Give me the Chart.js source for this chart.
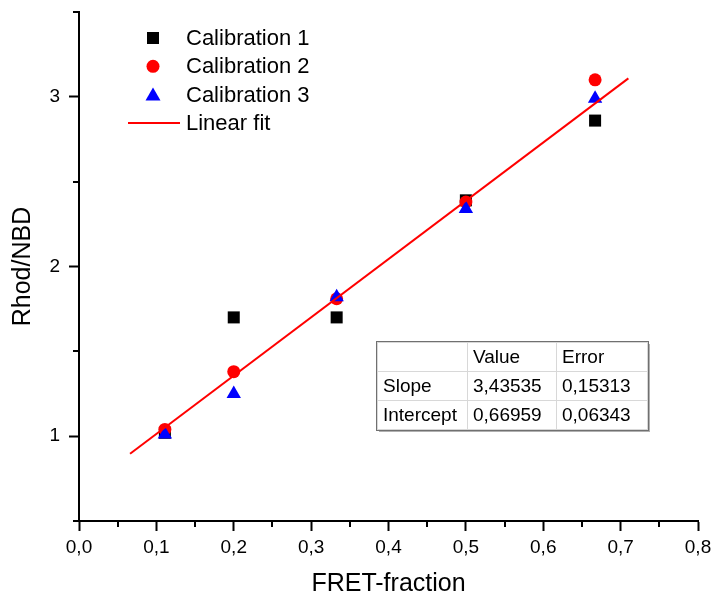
<!DOCTYPE html>
<html>
<head>
<meta charset="utf-8">
<script src="https://cdn.jsdelivr.net/npm/chart.js@4/dist/chart.umd.min.js"></script>
<style>
  html, body { margin: 0; padding: 0; background: #fff; }
  #wrap { position: relative; width: 713px; height: 597px; }
  canvas { display: block; }
  #fit {
    position: absolute; left: 377px; top: 342px;
    border-collapse: collapse; background: #fff;
    font-family: 'Liberation Sans', Arial, sans-serif; font-size: 19px; color: #000;
    box-shadow: 2px 2px 0 #b0b0b0; outline: 1px solid #707070;
  }
  #fit td { border: 1px solid #d8d8d8; padding: 0 5px; height: 28px; line-height: 28px; white-space: nowrap; }
  #fit td.c0 { width: 79px; }
  #fit td.c1 { width: 78px; }
  #fit td.c2 { width: 80px; }
</style>
</head>
<body>
<div id="wrap">
  <canvas id="c" width="713" height="597"></canvas>
  <table id="fit">
    <tr><td class="c0"></td><td class="c1">Value</td><td class="c2">Error</td></tr>
    <tr><td class="c0">Slope</td><td class="c1">3,43535</td><td class="c2">0,15313</td></tr>
    <tr><td class="c0">Intercept</td><td class="c1">0,66959</td><td class="c2">0,06343</td></tr>
  </table>
</div>
<script>
// ---- data ----
const fretFraction = [0.111, 0.2, 0.333, 0.5, 0.667];
const calibration1 = [1.02, 1.70, 1.70, 2.39, 2.86];
const calibration2 = [1.04, 1.38, 1.81, 2.38, 3.10];
const calibration3 = [1.01, 1.25, 1.82, 2.34, 2.99];
const fitX = [0.066, 0.71];
const fitY = [0.896, 3.109];
const xTickValues = [0, 0.1, 0.2, 0.3, 0.4, 0.5, 0.6, 0.7, 0.8];
const xMinorTicks = [0.05, 0.15, 0.25, 0.35, 0.45, 0.55, 0.65, 0.75];
const yTickValues = [1, 2, 3];
const yMinorTicks = [0.5, 1.5, 2.5, 3.5];
const seriesNames = ['Calibration 1', 'Calibration 2', 'Calibration 3', 'Linear fit'];

const FONT = "'Liberation Sans', Arial, sans-serif";
const pts = (xs, ys) => xs.map((x, i) => ({x: x, y: ys[i]}));

const minorTicks = {
  id: 'minorTicks',
  afterDraw(chart) {
    const ctx = chart.ctx, xs = chart.scales.x, ys = chart.scales.y;
    const area = chart.chartArea;
    ctx.save();
    ctx.strokeStyle = '#000';
    ctx.lineWidth = 2;
    ctx.beginPath();
    xMinorTicks.forEach(v => {
      const p = Math.round(xs.getPixelForValue(v));
      ctx.moveTo(p, area.bottom); ctx.lineTo(p, area.bottom + 6);
    });
    yMinorTicks.forEach(v => {
      const p = Math.round(ys.getPixelForValue(v));
      ctx.moveTo(area.left, p); ctx.lineTo(area.left - 6, p);
    });
    ctx.stroke();
    ctx.restore();
  }
};

const legendBox = {
  id: 'legendBox',
  afterDraw(chart) {
    const ctx = chart.ctx;
    const mx = 153, tx = 186, y0 = 38, dy = 28.3;
    ctx.save();
    ctx.font = '22px ' + FONT;
    ctx.textBaseline = 'middle';
    ctx.textAlign = 'left';
    ctx.fillStyle = '#000';
    ctx.fillRect(mx - 6, y0 - 6, 12, 12);
    ctx.fillStyle = '#ff0000';
    ctx.beginPath(); ctx.arc(mx, y0 + dy, 6.5, 0, Math.PI * 2); ctx.fill();
    ctx.fillStyle = '#0000ff';
    const ty = y0 + 2 * dy;
    ctx.beginPath(); ctx.moveTo(mx, ty - 7); ctx.lineTo(mx + 7.5, ty + 6); ctx.lineTo(mx - 7.5, ty + 6); ctx.closePath(); ctx.fill();
    ctx.strokeStyle = '#ff0000'; ctx.lineWidth = 2;
    ctx.beginPath(); ctx.moveTo(128, y0 + 3 * dy); ctx.lineTo(180, y0 + 3 * dy); ctx.stroke();
    ctx.fillStyle = '#000';
    seriesNames.forEach((n, i) => ctx.fillText(n, tx, y0 + i * dy + 1));
    ctx.restore();
  }
};

new Chart(document.getElementById('c'), {
  type: 'scatter',
  data: {
    datasets: [
      { label: seriesNames[3], data: pts(fitX, fitY), showLine: true, borderColor: '#ff0000', borderWidth: 2,
        pointRadius: 0, order: 0 },
      { label: seriesNames[2], data: pts(fretFraction, calibration3), pointStyle: 'triangle', pointRadius: 8.3,
        backgroundColor: '#0000ff', borderWidth: 0, order: 1 },
      { label: seriesNames[1], data: pts(fretFraction, calibration2), pointStyle: 'circle', pointRadius: 6.5,
        backgroundColor: '#ff0000', borderWidth: 0, order: 2 },
      { label: seriesNames[0], data: pts(fretFraction, calibration1), pointStyle: 'rect', pointRadius: 8.5,
        backgroundColor: '#000000', borderWidth: 0, order: 3 }
    ]
  },
  options: {
    responsive: false,
    animation: false,
    events: [],
    layout: { padding: { top: 12, right: 15, left: 0, bottom: 0 } },
    plugins: { legend: { display: false }, tooltip: { enabled: false } },
    scales: {
      x: {
        type: 'linear', min: 0, max: 0.8,
        afterBuildTicks: s => { s.ticks = xTickValues.map(v => ({value: v})); },
        afterFit: s => { s.height = 76; s.paddingLeft = 0; s.paddingRight = 0; },
        ticks: { color: '#000', font: { family: FONT, size: 19 }, padding: 5,
                 callback: v => v.toFixed(1).replace('.', ',') },
        grid: { drawOnChartArea: false, drawTicks: true, tickLength: 10, tickWidth: 2, tickColor: '#000' },
        border: { display: true, color: '#000', width: 2 },
        title: { display: true, text: 'FRET-fraction', color: '#000',
                 font: { family: FONT, size: 25, lineHeight: 1 }, padding: { top: 0, bottom: 0 } }
      },
      y: {
        type: 'linear', min: 0.5, max: 3.5,
        afterBuildTicks: s => { s.ticks = yTickValues.map(v => ({value: v})); },
        afterFit: s => { s.width = 79; s.paddingTop = 0; s.paddingBottom = 0; },
        ticks: { color: '#000', font: { family: FONT, size: 19 }, padding: 9,
                 callback: v => String(v) },
        grid: { drawOnChartArea: false, drawTicks: true, tickLength: 10, tickWidth: 2, tickColor: '#000' },
        border: { display: true, color: '#000', width: 2 },
        title: { display: true, text: 'Rhod/NBD', color: '#000',
                 font: { family: FONT, size: 25, lineHeight: 1 }, padding: { top: 11, bottom: 0 } }
      }
    }
  },
  plugins: [minorTicks, legendBox]
});
</script>
</body>
</html>
